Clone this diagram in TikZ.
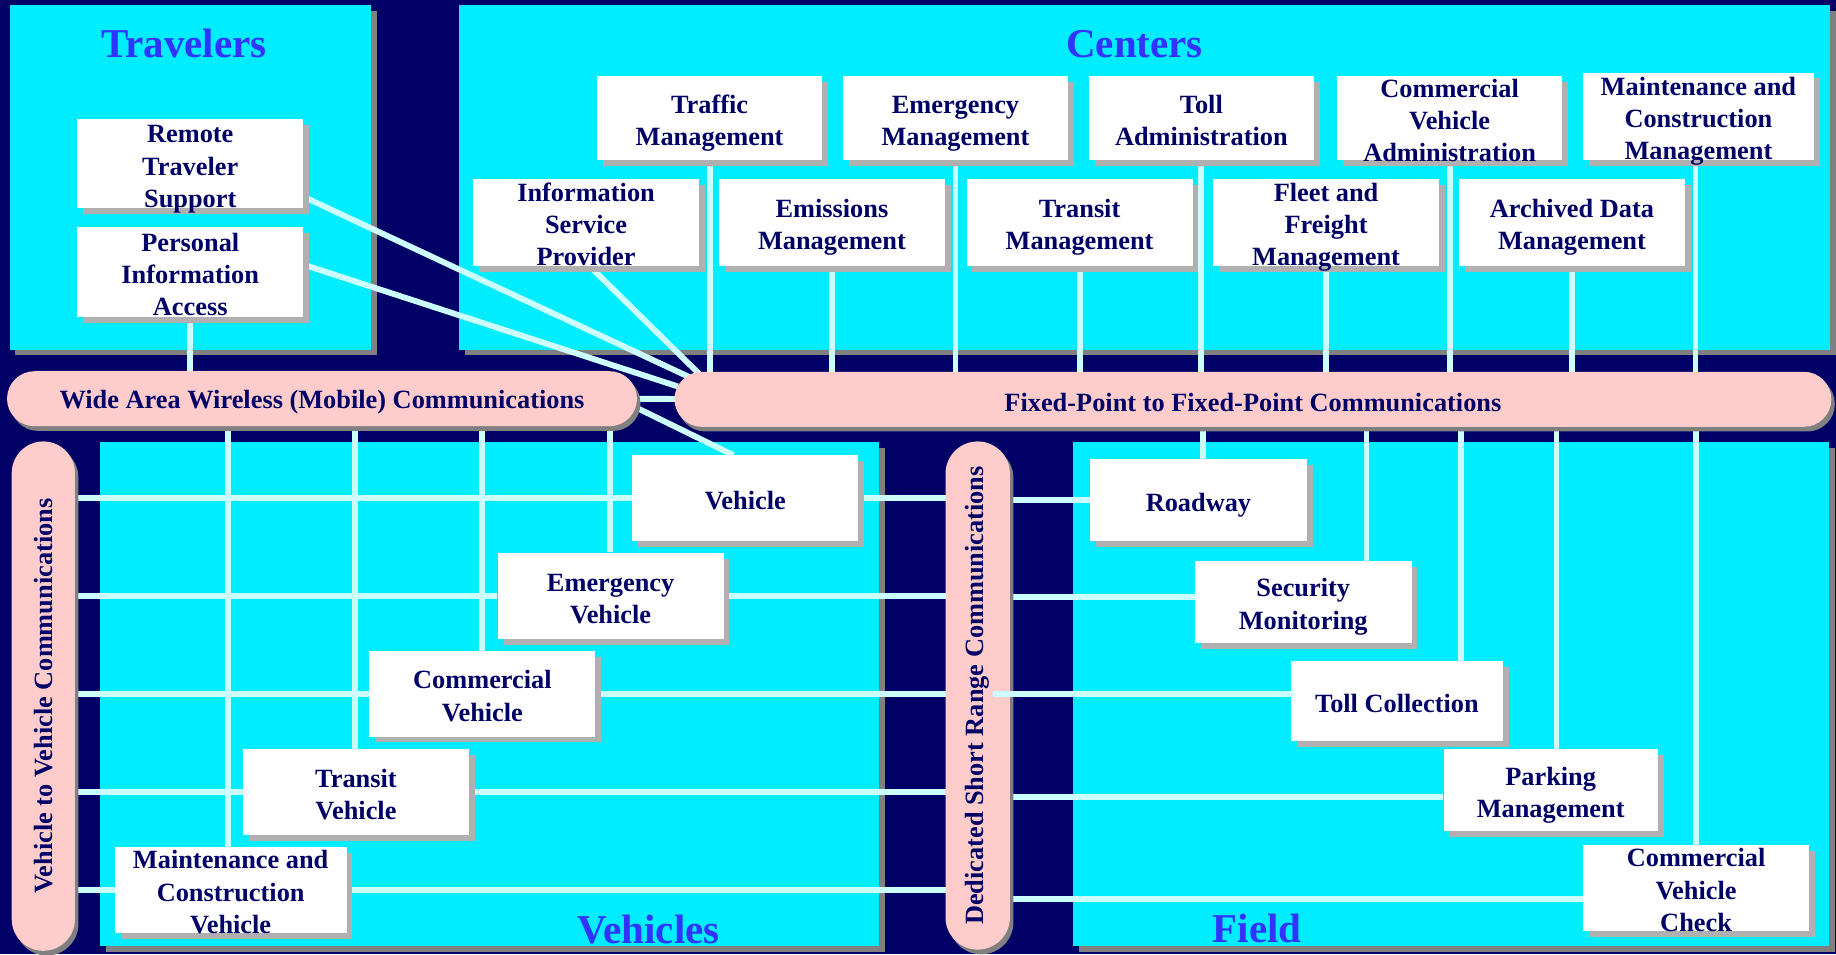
\documentclass[tikz,border=0pt]{standalone}
\usepackage{fontspec}
\usepackage{graphicx}
\setmainfont{Liberation Serif}
\usetikzlibrary{shadows,calc}

\definecolor{navy}{RGB}{0,0,102}
\definecolor{panelcyan}{RGB}{0,236,255}
\definecolor{pillpink}{RGB}{255,204,204}
\definecolor{linkcyan}{RGB}{204,255,255}
\definecolor{titleblue}{RGB}{51,51,255}
\definecolor{boxshade}{RGB}{176,176,176}
\definecolor{panelshade}{RGB}{128,128,128}

\newcommand{\labelfont}{\fontsize{22.5}{27.5}\selectfont\bfseries}
\newcommand{\headfont}{\fontsize{35}{40}\selectfont\bfseries}
% centred label block, set 4pt below the middle of its box and taking no room,
% so the box keeps its own size whatever the number of lines
\newsavebox{\etextbox}
\newcommand{\etext}[1]{%
  \sbox{\etextbox}{\begin{tabular}{@{}c@{}}#1\end{tabular}}%
  \raisebox{\dimexpr -4pt - 0.5\ht\etextbox + 0.5\dp\etextbox\relax}[0pt][0pt]{\usebox{\etextbox}}}

\pgfdeclarelayer{backdrop}
\pgfdeclarelayer{panels}
\pgfdeclarelayer{links}
\pgfsetlayers{backdrop,panels,links,main}

\tikzset{
  panel/.style={fill=panelcyan, inner sep=0pt, anchor=north west,
    general shadow={fill=panelshade, shadow xshift=5pt, shadow yshift=-5pt}},
  entity/.style={fill=white, text=navy, font=\labelfont,
    inner sep=0pt, minimum width=193pt, minimum height=73pt,
    general shadow={fill=boxshade, shadow xshift=5pt, shadow yshift=-5pt}},
  hpill/.style={fill=pillpink, text=navy, font=\labelfont, inner sep=0pt,
    minimum height=47pt, rounded corners=23.5pt,
    execute at begin node={\rule{0pt}{21.5pt}},
    general shadow={fill=panelshade, shadow xshift=3pt, shadow yshift=-4pt}},
  vpill/.style={fill=pillpink, text=navy, font=\labelfont, inner sep=0pt,
    minimum width=55pt, rounded corners=27.5pt,
    general shadow={fill=panelshade, shadow xshift=3pt, shadow yshift=-4pt}},
  heading/.style={text=titleblue, font=\headfont, anchor=base, inner sep=0pt},
  link/.style={draw=linkcyan, line width=5pt},
}

\begin{document}
\begin{tikzpicture}[x=1pt,y=-1pt]
\path[use as bounding box] (0,0) rectangle (1568,815);
\begin{pgfonlayer}{backdrop}
  \fill[navy] (0,0) rectangle (1568,815);
\end{pgfonlayer}

% ---------- domain panels ----------
\begin{pgfonlayer}{panels}
  \node[panel, minimum width=309pt, minimum height=294pt] (travP) at (8,4.3) {};
  \node[panel, minimum width=1171pt, minimum height=294pt] (centP) at (392,4.3) {};
  \node[panel, minimum width=665.5pt, minimum height=431pt] (vehP) at (85,377) {};
  \node[panel, minimum width=645.5pt, minimum height=431pt] (fieldP) at (916,377) {};
\end{pgfonlayer}

\node[heading] (travT) at (157,49) {Travelers};
\node[heading] (centT) at (969,49) {Centers};
\node[heading] (vehT) at (554,806) {Vehicles};
\node[heading] (fieldT) at (1073.5,804.5) {Field};

% ---------- communication buses ----------
\node[hpill, minimum width=538pt] (wa) at (275,340.5) {Wide Area Wireless (Mobile) Communications};
\node[hpill, minimum width=988pt] (fp) at (1070,341) {Fixed-Point to Fixed-Point Communications};
\node[vpill, minimum width=54pt, rounded corners=27pt, minimum height=435pt] (v2v) at (37,594.5)
  {\rotatebox{90}{Vehicle to Vehicle Communications}};
\node[vpill, minimum height=434pt] (dsrc) at (835,594)
  {\rotatebox{90}{Dedicated Short Range Communications}};

% ---------- travelers ----------
\node[entity, minimum height=76pt] (rts) at (162.5,140) {\etext{Remote\\Traveler\\Support}};
\node[entity, minimum height=77pt] (pia) at (162.5,232.5) {\etext{Personal\\Information\\Access}};

% ---------- centers ----------
\node[entity, minimum width=192pt, minimum height=72pt] (tm) at (606,101) {\etext{Traffic\\Management}};
\node[entity, minimum width=192pt, minimum height=72pt] (em) at (816,101) {\etext{Emergency\\Management}};
\node[entity, minimum width=192pt, minimum height=72pt] (ta) at (1026,101) {\etext{Toll\\Administration}};
\node[entity, minimum width=192pt, minimum height=72pt] (cva) at (1238,101) {\etext{Commercial\\Vehicle\\Administration}};
\node[entity, minimum width=197pt, minimum height=75pt] (mcm) at (1450.5,99.5) {\etext{Maintenance and\\Construction\\Management}};
\node[entity, minimum height=74pt] (isp) at (500.5,190) {\etext{Information\\Service\\Provider}};
\node[entity, minimum height=74pt] (emm) at (710.5,190) {\etext{Emissions\\Management}};
\node[entity, minimum height=74pt] (trm) at (922,190) {\etext{Transit\\Management}};
\node[entity, minimum height=74pt] (ffm) at (1132.5,190) {\etext{Fleet and\\Freight\\Management}};
\node[entity, minimum height=74pt] (adm) at (1342.5,190) {\etext{Archived Data\\Management}};

% ---------- vehicles ----------
\node[entity] (veh) at (636.5,425.5) {\etext{Vehicle}};
\node[entity, minimum height=74pt] (ev) at (521.5,509) {\etext{Emergency\\Vehicle}};
\node[entity] (cv) at (412,592.5) {\etext{Commercial\\Vehicle}};
\node[entity] (tv) at (304,676.5) {\etext{Transit\\Vehicle}};
\node[entity, minimum width=198pt, minimum height=73.5pt] (mcv) at (197,760) {\etext{Maintenance and\\Construction\\Vehicle}};

% ---------- field ----------
\node[entity, minimum width=185pt, minimum height=70pt] (rd) at (1023.5,427) {\etext{Roadway}};
\node[entity, minimum width=185pt, minimum height=70pt] (sm) at (1113,514) {\etext{Security\\Monitoring}};
\node[entity, minimum width=181pt, minimum height=68pt] (tc) at (1193,598.6) {\etext{Toll Collection}};
\node[entity, minimum width=183pt, minimum height=70pt] (pm) at (1324.3,674.8) {\etext{Parking\\Management}};
\node[entity, minimum width=193pt, minimum height=73pt] (cvc) at (1448.5,758.4) {\etext{Commercial\\Vehicle\\Check}};

% ---------- connectors ----------
\begin{pgfonlayer}{links}
  % centers down to the fixed-point bus
  \foreach \n in {tm,em,ta,cva,emm,trm,ffm,adm}
    \draw[link] (\n.south) -- (\n.south |- fp.center);
  \draw[link] ($(mcm.south)+(-2.5,0)$) -- ($(mcm.south |- fp.center)+(-2.5,0)$);
  % travelers and information service provider into the fixed-point bus
  \draw[link] ($(rts.east)+(0,28)$) -- ($(fp.west)+(15,-18)$);
  \draw[link] ($(pia.east)+(0,-6.5)$) -- ($(fp.west)+(3,-11)$);
  \draw[link] ($(isp.south)+(3,0)$) -- ($(fp.west)+(21,-22)$);
  \draw[link] (pia.south) -- (pia.south |- wa.center);
  % bus to bus, and wide area bus to the vehicle
  \draw[link] (wa.center) -- (fp.center);
  \draw[link] ($(wa.east)+(0,8)$) -- ($(veh.north)+(-10,0)$);
  % wide area bus down to the vehicles
  \draw[link] ($(ev.north)+(-0.5,0)$) -- ($(ev.north |- wa.center)+(-0.5,0)$);
  \draw[link] (cv.north) -- (cv.north |- wa.center);
  \draw[link] ($(tv.north)+(-1,0)$) -- ($(tv.north |- wa.center)+(-1,0)$);
  \draw[link] ($(mcv.north)+(-2.5,0)$) -- ($(mcv.north |- wa.center)+(-2.5,0)$);
  % vehicle to vehicle bus and short range bus
  \foreach \n in {veh,ev,cv,tv,mcv} {
    \draw[link] (v2v.center |- \n.west) -- (\n.west);
    \draw[link] (\n.east) -- (dsrc.center |- \n.east);
  }
  % fixed-point bus down to the field
  \draw[link] ($(rd.north)+(4,0)$) -- ($(rd.north |- fp.center)+(4,0)$);
  \draw[link] ($(sm.north)+(54,0)$) -- ($(sm.north |- fp.center)+(54,0)$);
  \draw[link] ($(tc.north)+(55,0)$) -- ($(tc.north |- fp.center)+(55,0)$);
  \draw[link] ($(pm.north)+(5,0)$) -- ($(pm.north |- fp.center)+(5,0)$);
  \draw[link] (cvc.north) -- (cvc.north |- fp.center);
  % short range bus to the field
  \draw[link] (dsrc.center |- rd.west) -- (rd.west);
  \draw[link] ($(dsrc.center |- sm.west)+(0,-4)$) -- ($(sm.west)+(0,-4)$);
  \draw[link] ($(dsrc.center |- pm.west)+(0,6)$) -- ($(pm.west)+(0,6)$);
  \draw[link] ($(dsrc.center |- cvc.west)+(0,9)$) -- ($(cvc.west)+(0,9)$);
\end{pgfonlayer}
\draw[link, line cap=round] ($(dsrc.center |- tc.west)+(15,-6)$) -- ($(tc.west)+(0,-6)$);

\end{tikzpicture}
\end{document}
